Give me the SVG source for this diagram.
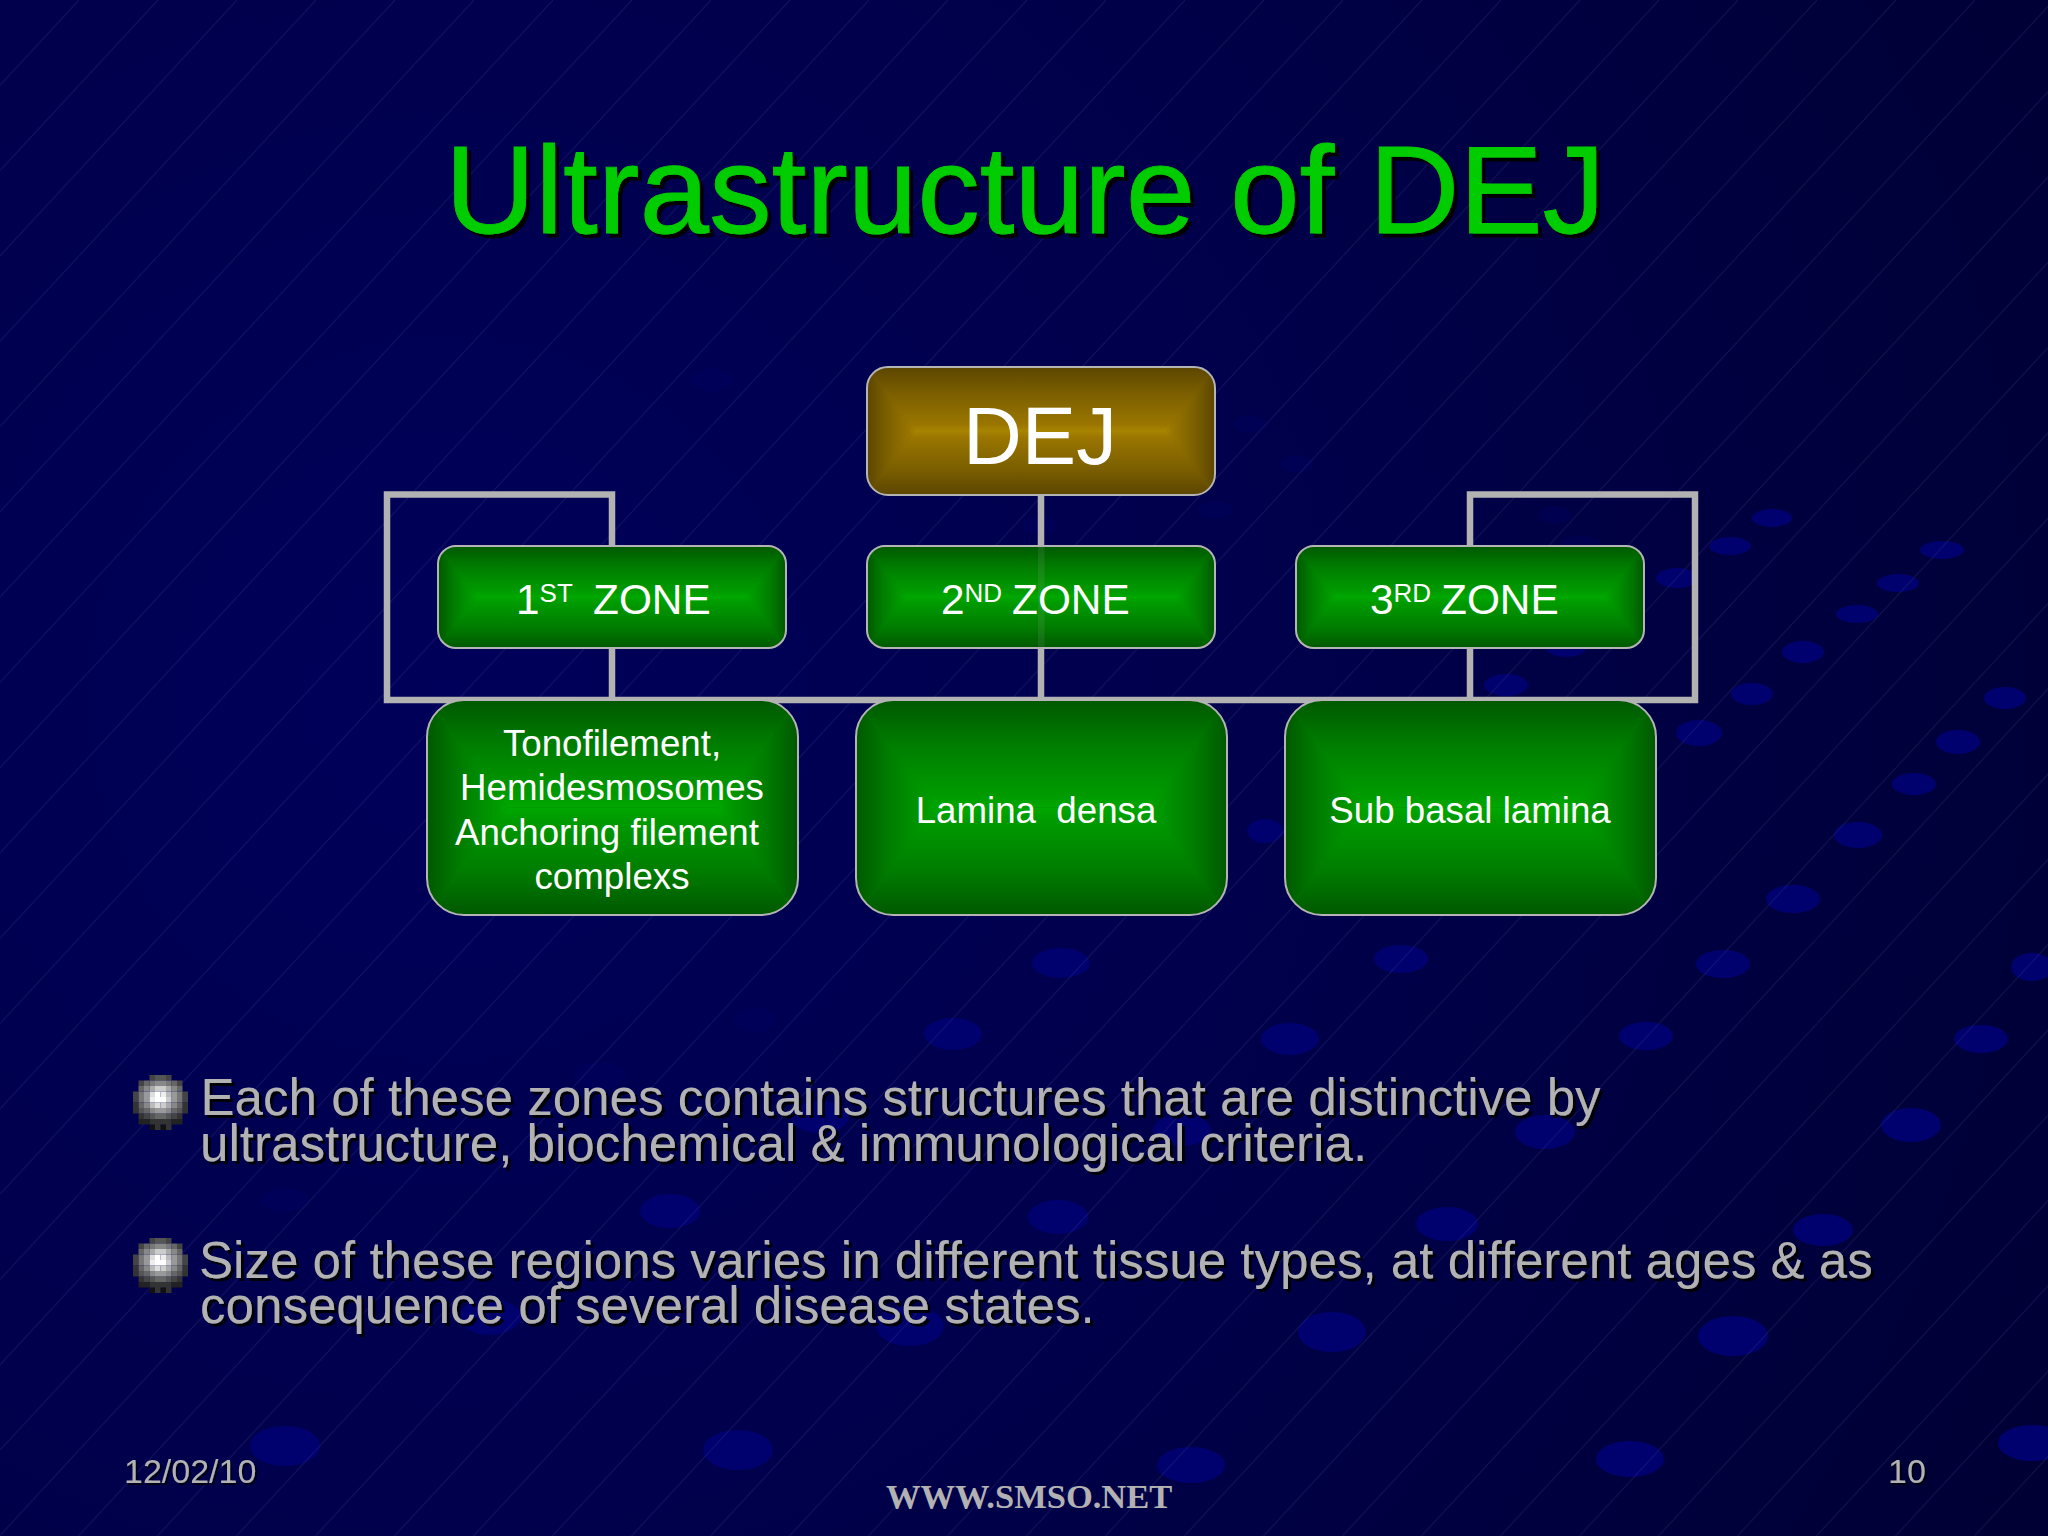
<svg xmlns="http://www.w3.org/2000/svg" width="2048" height="1536" viewBox="0 0 2048 1536">
<style>
text{font-family:"Liberation Sans",Arial,sans-serif}
.dots ellipse{fill:#00006e}
.faint ellipse{fill:#000064}
.conn{fill:none;stroke:#b2b2b2;stroke-width:6.5;stroke-linejoin:miter}
.edge{fill:none;stroke:#b4b4b4;stroke-width:2}
.w{fill:#fff}
.zone{fill:#fff;font-size:42.4px}
.sup{font-size:26px}
.low{fill:#fff;font-size:36.7px;text-anchor:middle}
.body{fill:#b2b2b2;font-size:51.1px;filter:url(#sh2)}
.foot{fill:#b2b2b2;font-size:34px;filter:url(#sh1)}
#ball path{fill:none;stroke-width:5.5}
</style>
<defs>
<radialGradient id="bg" gradientUnits="userSpaceOnUse" cx="450" cy="700" r="1800"><stop offset="0" stop-color="#00005a"/><stop offset=".5" stop-color="#00004a"/><stop offset="1" stop-color="#000034"/></radialGradient>
<pattern id="hatch" patternUnits="userSpaceOnUse" width="79" height="85.3"><path d="M0 85.3L79 0" stroke="#5a5aa8" stroke-width="1" opacity=".2" fill="none"/></pattern>
<filter id="sh4" x="-5%" y="-10%" width="110%" height="120%"><feOffset in="SourceAlpha" dx="4" dy="4"/><feColorMatrix values="0 0 0 0 0 0 0 0 0 0 0 0 0 0 0 0 0 0 .95 0" result="s"/><feMerge><feMergeNode in="s"/><feMergeNode in="SourceGraphic"/></feMerge></filter>
<filter id="sh2" x="-5%" y="-15%" width="110%" height="130%"><feOffset in="SourceAlpha" dx="2.5" dy="2.5"/><feColorMatrix values="0 0 0 0 0 0 0 0 0 0 0 0 0 0 0 0 0 0 .9 0" result="s"/><feMerge><feMergeNode in="s"/><feMergeNode in="SourceGraphic"/></feMerge></filter>
<filter id="sh1" x="-5%" y="-15%" width="110%" height="130%"><feOffset in="SourceAlpha" dx="1.5" dy="1.5"/><feColorMatrix values="0 0 0 0 0 0 0 0 0 0 0 0 0 0 0 0 0 0 .7 0" result="s"/><feMerge><feMergeNode in="s"/><feMergeNode in="SourceGraphic"/></feMerge></filter>
<linearGradient id="gd" x1="0" y1="0" x2="0" y2="1"><stop offset="0" stop-color="#005800"/><stop offset=".4" stop-color="#007c00"/><stop offset=".9" stop-color="#009c00"/><stop offset="1" stop-color="#00a800"/></linearGradient>
<linearGradient id="gu" x1="0" y1="1" x2="0" y2="0"><stop offset="0" stop-color="#005800"/><stop offset=".4" stop-color="#007c00"/><stop offset=".9" stop-color="#009c00"/><stop offset="1" stop-color="#00a800"/></linearGradient>
<linearGradient id="gr" x1="0" y1="0" x2="1" y2="0"><stop offset="0" stop-color="#005800"/><stop offset=".4" stop-color="#007c00"/><stop offset=".9" stop-color="#009c00"/><stop offset="1" stop-color="#00a800"/></linearGradient>
<linearGradient id="gl" x1="1" y1="0" x2="0" y2="0"><stop offset="0" stop-color="#005800"/><stop offset=".4" stop-color="#007c00"/><stop offset=".9" stop-color="#009c00"/><stop offset="1" stop-color="#00a800"/></linearGradient>
<linearGradient id="yd" x1="0" y1="0" x2="0" y2="1"><stop offset="0" stop-color="#5c4600"/><stop offset=".4" stop-color="#7a5e00"/><stop offset=".9" stop-color="#9a7600"/><stop offset="1" stop-color="#a88400"/></linearGradient>
<linearGradient id="yu" x1="0" y1="1" x2="0" y2="0"><stop offset="0" stop-color="#5c4600"/><stop offset=".4" stop-color="#7a5e00"/><stop offset=".9" stop-color="#9a7600"/><stop offset="1" stop-color="#a88400"/></linearGradient>
<linearGradient id="yr" x1="0" y1="0" x2="1" y2="0"><stop offset="0" stop-color="#5c4600"/><stop offset=".4" stop-color="#7a5e00"/><stop offset=".9" stop-color="#9a7600"/><stop offset="1" stop-color="#a88400"/></linearGradient>
<linearGradient id="yl" x1="1" y1="0" x2="0" y2="0"><stop offset="0" stop-color="#5c4600"/><stop offset=".4" stop-color="#7a5e00"/><stop offset=".9" stop-color="#9a7600"/><stop offset="1" stop-color="#a88400"/></linearGradient>
<clipPath id="c0"><rect x="867" y="367" width="348" height="128" rx="21"/></clipPath>
<clipPath id="c1"><rect x="438" y="546" width="348" height="102" rx="18"/></clipPath>
<clipPath id="c2"><rect x="867" y="546" width="348" height="102" rx="18"/></clipPath>
<clipPath id="c3"><rect x="1296" y="546" width="348" height="102" rx="18"/></clipPath>
<clipPath id="c4"><rect x="427" y="700" width="371" height="215" rx="37"/></clipPath>
<clipPath id="c5"><rect x="856" y="700" width="371" height="215" rx="37"/></clipPath>
<clipPath id="c6"><rect x="1285" y="700" width="371" height="215" rx="37"/></clipPath>
<g id="ball">
<path stroke="#111" d="M149.5 1127.25h5.5M160.5 1127.25h5.5"/>
<path stroke="#222" d="M138.5 1121.75h11M171.5 1121.75h11"/>
<path stroke="#333" d="M133 1105.25h5.5M182.5 1105.25h5.5M133 1110.75h5.5M182.5 1110.75h5.500M138.5 1116.25h5.5M177 1116.25h5.5M149.5 1121.75h22M155 1127.25h5.5M166 1127.25h5.5"/>
<path stroke="#444" d="M149.5 1077.75h5.5M166 1077.75h5.5M138.5 1083.25h5.5M177 1083.25h5.5M133 1094.25h5.5M182.5 1094.25h5.5M133 1099.75h5.5M182.5 1099.75h5.5M144 1116.25h5.5M171.5 1116.25h5.5"/>
<path stroke="#555" d="M155 1077.75h11M138.5 1110.75h5.5M177 1110.75h5.5M149.5 1116.25h5.5M166 1116.25h5.5"/>
<path stroke="#666" d="M144 1083.25h5.5M171.5 1083.25h5.5M138.5 1088.75h5.5M177 1088.75h5.5M138.5 1105.25h5.5M177 1105.25h5.5M144 1110.75h5.5M171.5 1110.75h5.5M155 1116.25h11"/>
<path stroke="#777" d="M149.5 1083.25h5.5M166 1083.25h5.5M138.5 1094.25h5.5M177 1094.25h5.5M138.5 1099.75h5.5M177 1099.75h5.5"/>
<path stroke="#888" d="M155 1083.25h11M144 1088.75h5.5M171.5 1088.75h5.5M144 1105.25h5.5M171.5 1105.25h5.5M149.5 1110.75h5.5M166 1110.75h5.5"/>
<path stroke="#999" d="M144 1094.25h5.5M171.5 1094.25h5.5M144 1099.75h5.5M171.5 1099.75h5.5M155 1110.75h11"/>
<path stroke="#aaa" d="M149.5 1088.75h5.5M166 1088.75h5.5M166 1105.25h5.5"/>
<path stroke="#bbb" d="M166 1094.25h5.5M149.5 1105.25h5.5"/>
<path stroke="#ccc" d="M155 1088.75h11M166 1099.75h5.5M160.5 1105.25h5.5"/>
<path stroke="#ddd" d="M149.5 1094.25h5.5M155 1105.25h5.5"/>
<path stroke="#eee" d="M160.5 1094.25h5.5M149.5 1099.75h5.5"/>
<path stroke="#fff" d="M155 1094.25h5.5M155 1099.75h11"/>
</g>
</defs>

<g id="background">
<rect width="2048" height="1536" fill="url(#bg)"/>
<g class="faint" opacity=".4">
<ellipse cx="712" cy="380" rx="22" ry="12"/><ellipse cx="1250" cy="424" rx="17" ry="9"/><ellipse cx="1297" cy="464" rx="17" ry="9"/><ellipse cx="1215" cy="510" rx="17" ry="9"/><ellipse cx="1120" cy="485" rx="17" ry="9"/><ellipse cx="1040" cy="525" rx="17" ry="9"/><ellipse cx="1555" cy="515" rx="17" ry="9"/><ellipse cx="1580" cy="545" rx="20" ry="9"/><ellipse cx="755" cy="1020" rx="22" ry="12"/><ellipse cx="600" cy="1075" rx="26" ry="14"/><ellipse cx="285" cy="1200" rx="24" ry="12"/>
</g>
<g class="dots">
<ellipse cx="1772" cy="518" rx="20" ry="9"/><ellipse cx="1730" cy="546" rx="21" ry="9"/><ellipse cx="1677" cy="578" rx="21" ry="10"/><ellipse cx="1942" cy="550" rx="22" ry="9"/><ellipse cx="1898" cy="583" rx="21" ry="9"/><ellipse cx="1857" cy="614" rx="21" ry="9"/><ellipse cx="1803" cy="652" rx="21" ry="11"/><ellipse cx="1752" cy="694" rx="21" ry="11"/><ellipse cx="1699" cy="733" rx="23" ry="13"/><ellipse cx="1506" cy="685" rx="22" ry="11"/><ellipse cx="1566" cy="648" rx="20" ry="9"/><ellipse cx="2005" cy="698" rx="21" ry="11"/><ellipse cx="1958" cy="742" rx="22" ry="12"/><ellipse cx="1914" cy="784" rx="22" ry="11"/><ellipse cx="1858" cy="835" rx="24" ry="13"/><ellipse cx="1793" cy="899" rx="27" ry="14"/><ellipse cx="1265" cy="831" rx="18" ry="12"/>
<ellipse cx="1061" cy="963" rx="29" ry="15"/><ellipse cx="1401" cy="959" rx="27" ry="14"/><ellipse cx="1723" cy="964" rx="27" ry="14"/><ellipse cx="2032" cy="967" rx="21" ry="14"/><ellipse cx="953" cy="1034" rx="29" ry="16"/><ellipse cx="1290" cy="1039" rx="29" ry="16"/><ellipse cx="1646" cy="1036" rx="27" ry="14"/><ellipse cx="1981" cy="1039" rx="27" ry="14"/><ellipse cx="1911" cy="1125" rx="30" ry="17"/><ellipse cx="1545" cy="1132" rx="30" ry="17"/><ellipse cx="1182" cy="1130" rx="29" ry="16"/><ellipse cx="820" cy="1117" rx="29" ry="16"/><ellipse cx="670" cy="1211" rx="30" ry="17"/><ellipse cx="1058" cy="1217" rx="30" ry="17"/><ellipse cx="1447" cy="1224" rx="31" ry="17"/><ellipse cx="1823" cy="1230" rx="30" ry="16"/><ellipse cx="1332" cy="1332" rx="34" ry="20"/><ellipse cx="1733" cy="1336" rx="35" ry="20"/><ellipse cx="910" cy="1326" rx="34" ry="20"/><ellipse cx="490" cy="1317" rx="31" ry="18"/><ellipse cx="1630" cy="1459" rx="34" ry="18"/><ellipse cx="1191" cy="1465" rx="34" ry="18"/><ellipse cx="738" cy="1450" rx="35" ry="20"/><ellipse cx="285" cy="1446" rx="35" ry="20"/><ellipse cx="2032" cy="1443" rx="34" ry="18"/>
</g>
<rect width="2048" height="1536" fill="url(#hatch)"/>
</g>

<text id="title" x="445" y="233" font-size="125" fill="#00cc00" stroke="#00cc00" stroke-width=".8" filter="url(#sh4)">Ultrastructure of DEJ</text>

<g id="connectors">
<path class="conn" d="M612 546V494.500H387V700H1695V494.500H1470V546"/>
<path class="conn" d="M612 648V700M1041 495V700M1470 648V700"/>
</g>

<g id="node-dej">
<g clip-path="url(#c0)"><rect x="867" y="367" width="348" height="128" fill="#7a5e00"/>
<polygon points="867,367 1215,367 1167,431 915,431" fill="url(#yd)"/><polygon points="867,495 1215,495 1167,431 915,431" fill="url(#yu)"/><polygon points="867,367 915,431 867,495" fill="url(#yr)"/><polygon points="1215,367 1167,431 1215,495" fill="url(#yl)"/></g>
<rect class="edge" x="867" y="367" width="348" height="128" rx="21"/>
<text class="w" x="1040" y="464" font-size="81.5" text-anchor="middle">DEJ</text>
</g>

<g id="node-zone1">
<g clip-path="url(#c1)"><rect x="438" y="546" width="348" height="102" fill="#007c00"/>
<polygon points="438,546 786,546 748,597 476,597" fill="url(#gd)"/><polygon points="438,648 786,648 748,597 476,597" fill="url(#gu)"/><polygon points="438,546 476,597 438,648" fill="url(#gr)"/><polygon points="786,546 748,597 786,648" fill="url(#gl)"/></g>
<rect class="edge" x="438" y="546" width="348" height="102" rx="18"/>
<text class="zone" x="516" y="614">1<tspan class="sup" dy="-12">ST</tspan><tspan x="593" dy="12">ZONE</tspan></text>
</g>

<g id="node-zone2">
<g clip-path="url(#c2)"><rect x="867" y="546" width="348" height="102" fill="#007c00"/>
<polygon points="867,546 1215,546 1177,597 905,597" fill="url(#gd)"/><polygon points="867,648 1215,648 1177,597 905,597" fill="url(#gu)"/><polygon points="867,546 905,597 867,648" fill="url(#gr)"/><polygon points="1215,546 1177,597 1215,648" fill="url(#gl)"/>
<rect x="1038" y="546" width="6.500" height="102" fill="#b2b2b2" opacity=".12"/></g>
<rect class="edge" x="867" y="546" width="348" height="102" rx="18"/>
<text class="zone" x="941" y="614">2<tspan class="sup" dy="-12">ND</tspan><tspan x="1012" dy="12">ZONE</tspan></text>
</g>

<g id="node-zone3">
<g clip-path="url(#c3)"><rect x="1296" y="546" width="348" height="102" fill="#007c00"/>
<polygon points="1296,546 1644,546 1606,597 1334,597" fill="url(#gd)"/><polygon points="1296,648 1644,648 1606,597 1334,597" fill="url(#gu)"/><polygon points="1296,546 1334,597 1296,648" fill="url(#gr)"/><polygon points="1644,546 1606,597 1644,648" fill="url(#gl)"/></g>
<rect class="edge" x="1296" y="546" width="348" height="102" rx="18"/>
<text class="zone" x="1370" y="614">3<tspan class="sup" dy="-12">RD</tspan><tspan x="1441" dy="12">ZONE</tspan></text>
</g>

<g id="node-detail1">
<g clip-path="url(#c4)"><rect x="427" y="700" width="371" height="215" fill="#007c00"/>
<polygon points="427,700 798,700 718,807.500 507,807.500" fill="url(#gd)"/><polygon points="427,915 798,915 718,807.500 507,807.500" fill="url(#gu)"/><polygon points="427,700 507,807.500 427,915" fill="url(#gr)"/><polygon points="798,700 718,807.500 798,915" fill="url(#gl)"/></g>
<rect class="edge" x="427" y="700" width="371" height="215" rx="37"/>
<text class="low" x="612" y="756">Tonofilement,</text>
<text class="low" x="612" y="800">Hemidesmosomes</text>
<text class="low" x="607" y="845">Anchoring filement</text>
<text class="low" x="612" y="889">complexs</text>
</g>

<g id="node-detail2">
<g clip-path="url(#c5)"><rect x="856" y="700" width="371" height="215" fill="#007c00"/>
<polygon points="856,700 1227,700 1147,807.500 936,807.500" fill="url(#gd)"/><polygon points="856,915 1227,915 1147,807.500 936,807.500" fill="url(#gu)"/><polygon points="856,700 936,807.500 856,915" fill="url(#gr)"/><polygon points="1227,700 1147,807.500 1227,915" fill="url(#gl)"/></g>
<rect class="edge" x="856" y="700" width="371" height="215" rx="37"/>
<text class="low" x="1036" y="823" xml:space="preserve">Lamina  densa</text>
</g>

<g id="node-detail3">
<g clip-path="url(#c6)"><rect x="1285" y="700" width="371" height="215" fill="#007c00"/>
<polygon points="1285,700 1656,700 1576,807.500 1365,807.500" fill="url(#gd)"/><polygon points="1285,915 1656,915 1576,807.500 1365,807.500" fill="url(#gu)"/><polygon points="1285,700 1365,807.500 1285,915" fill="url(#gr)"/><polygon points="1656,700 1576,807.500 1656,915" fill="url(#gl)"/></g>
<rect class="edge" x="1285" y="700" width="371" height="215" rx="37"/>
<text class="low" x="1470" y="823">Sub basal lamina</text>
</g>

<g id="bullets">
<use href="#ball"/>
<use href="#ball" y="163"/>
<text class="body" x="200.500" y="1114.500">Each of these zones contains structures that are distinctive by</text>
<text class="body" x="200" y="1161">ultrastructure, biochemical &amp; immunological criteria.</text>
<text class="body" x="199" y="1277.500">Size of these regions varies in different tissue types, at different ages &amp; as</text>
<text class="body" x="200" y="1323">consequence of several disease states.</text>
</g>

<g id="footer">
<text class="foot" x="124" y="1483">12/02/10</text>
<text class="foot" x="1888" y="1483">10</text>
<text x="886" y="1508" font-size="34.5" font-weight="bold" fill="#b2b2b2" style="font-family:'Liberation Serif','Times New Roman',serif">WWW.SMSO.NET</text>
</g>
</svg>
